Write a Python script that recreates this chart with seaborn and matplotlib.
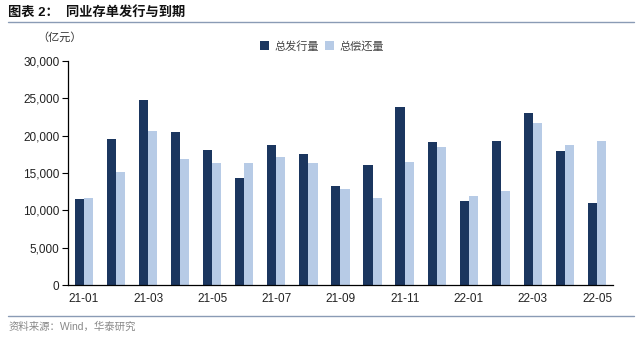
import matplotlib
matplotlib.use("Agg")
import matplotlib.pyplot as plt
import seaborn as sns
import pandas as pd
from matplotlib.lines import Line2D
from matplotlib.patches import Patch

months = ["21-01", "21-02", "21-03", "21-04", "21-05", "21-06", "21-07", "21-08", "21-09",
          "21-10", "21-11", "21-12", "22-01", "22-02", "22-03", "22-04", "22-05"]
issue = [11500, 19600, 24800, 20500, 18100, 14400, 18800, 17500, 13300,
         16100, 23800, 19100, 11200, 19300, 23000, 18000, 11000]
repay = [11600, 15200, 20600, 16900, 16300, 16300, 17100, 16300, 12900,
         11600, 16500, 18500, 11900, 12600, 21700, 18700, 19300]
series_names = ["总发行量", "总偿还量"]
colors = ["#1B365F", "#B7CBE6"]

df = pd.DataFrame({
    "month": months * 2,
    "value": issue + repay,
    "series": [series_names[0]] * len(months) + [series_names[1]] * len(months),
})

sns.set_style("white")
plt.rcParams["font.family"] = ["Liberation Sans", "Noto Sans CJK SC", "DejaVu Sans"]

fig = plt.figure(figsize=(6.4, 3.37), dpi=100)
ax = fig.add_axes([0.106, 0.154, 0.852, 0.665])

sns.barplot(data=df, x="month", y="value", hue="series", palette=colors,
            width=0.57, gap=0, saturation=1, ax=ax, legend=False, linewidth=0)

ax.set_xlim(-0.5, len(months) - 0.5)
ax.set_ylim(0, 30000)
ax.set_yticks(range(0, 30001, 5000))
ax.set_yticklabels([f"{v:,}" for v in range(0, 30001, 5000)], fontsize=8.5, color="#222222")
ax.set_xticks(range(0, len(months), 2))
ax.set_xticklabels(months[::2], fontsize=8.5, color="#222222")
ax.set_xticks([i - 0.5 for i in range(0, len(months) + 1, 2)], minor=True)
ax.tick_params(axis="x", which="major", length=0, pad=6)
ax.tick_params(axis="x", which="minor", length=4, width=0.8, direction="out", color="black")
ax.tick_params(axis="y", length=4, width=0.8, direction="out", color="black", pad=2, left=True)
ax.set_xlabel("")
ax.set_ylabel("")
for s in ["top", "right"]:
    ax.spines[s].set_visible(False)
for s in ["left", "bottom"]:
    ax.spines[s].set_color("black")
    ax.spines[s].set_linewidth(0.9)

handles = [Patch(facecolor=c, edgecolor="none") for c in colors]
leg = fig.legend(handles, series_names, loc="center", bbox_to_anchor=(0.503, 0.863),
                 ncol=2, frameon=False, fontsize=8, handlelength=0.8, handleheight=0.8,
                 handletextpad=0.5, columnspacing=0.6)
for t in leg.get_texts():
    t.set_color("#444444")

fig.text(0.013, 0.962, "图表 2：  同业存单发行与到期", fontsize=9.5, fontweight="bold",
         va="center", ha="left", color="#111111")
fig.add_artist(Line2D([0.013, 0.99], [0.935, 0.935], color="#8A9BB5", lw=1.0))
fig.text(0.058, 0.888, "（亿元）", fontsize=8, va="center", ha="left", color="#333333")
fig.add_artist(Line2D([0.013, 0.99], [0.062, 0.062], color="#8A9BB5", lw=1.0))
fig.text(0.013, 0.03, "资料来源：Wind，华泰研究", fontsize=7.5, va="center", ha="left",
         color="#888888")

fig.savefig("out.png", dpi=100)
